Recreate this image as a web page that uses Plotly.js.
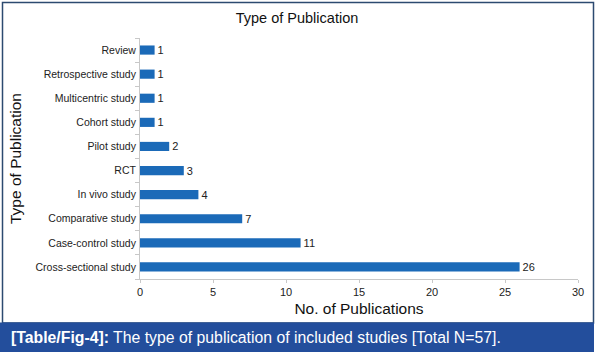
<!DOCTYPE html>
<html>
<head>
<meta charset="utf-8">
<script src="https://cdn.plot.ly/plotly-3.0.1.min.js"></script>
<style>
html,body{margin:0;padding:0;background:#fff;}
#chart{width:598px;height:356px;}
</style>
</head>
<body>
<div id="chart"></div>
<script>
// Data (bottom to top as drawn)
const categories = ["Cross-sectional study","Case-control study","Comparative study","In vivo study","RCT","Pilot study","Cohort study","Multicentric study","Retrospective study","Review"];
const counts = [26, 11, 7, 4, 3, 2, 1, 1, 1, 1];
const xTicks = [0, 5, 10, 15, 20, 25, 30];

const W = 598, H = 356;
const L = 140, R = 20, T = 38, B = 77;
const pw = W - L - R, ph = H - T - B;
const px = v => (v - L) / pw;          // pixel x -> paper x
const py = v => (H - B - v) / ph;       // pixel y -> paper y

const trace = {
  type: 'bar',
  orientation: 'h',
  y: categories,
  x: counts,
  marker: {color: '#1b6ab8'},
  text: counts.map(String),
  textposition: 'outside',
  constraintext: 'none',
  cliponaxis: false,
  textfont: {family: 'Liberation Sans, Arial, sans-serif', size: 11, color: '#222'},
  hoverinfo: 'none'
};

const layout = {
  width: W, height: H,
  margin: {l: L, r: R, t: T, b: B, pad: 0},
  paper_bgcolor: '#fff',
  plot_bgcolor: '#fff',
  showlegend: false,
  bargap: 0.62,
  font: {family: 'Liberation Sans, Arial, sans-serif', color: '#222'},
  title: {
    text: 'Type of Publication',
    font: {size: 14.5, color: '#111'},
    x: 297 / W, xanchor: 'center', xref: 'container',
    y: 1 - 18 / H, yanchor: 'middle', yref: 'container'
  },
  xaxis: {
    range: [0, 30],
    tickvals: xTicks,
    ticktext: xTicks.map(String),
    showgrid: false,
    zeroline: false,
    showline: true,
    linecolor: '#c8c8c8',
    linewidth: 1,
    ticks: 'outside',
    ticklen: 3,
    tickcolor: '#c8c8c8',
    tickfont: {size: 11, color: '#222'},
    title: {text: 'No. of Publications', font: {size: 15.5, color: '#111'}, standoff: 5},
    fixedrange: true
  },
  yaxis: {
    type: 'category',
    showgrid: false,
    zeroline: false,
    showline: true,
    linecolor: '#c8c8c8',
    linewidth: 1,
    ticks: 'outside',
    tickson: 'boundaries',
    ticklen: 4,
    tickcolor: '#c8c8c8',
    tickfont: {size: 10.5, color: '#222'},
    ticklabelstandoff: 1,
    title: {text: 'Type of Publication', font: {size: 15.5, color: '#111'}, standoff: 10},
    fixedrange: true
  },
  shapes: [
    {type: 'rect', xref: 'paper', yref: 'paper',
     x0: px(2.5), x1: px(593.5), y0: py(323), y1: py(2.5),
     line: {color: '#2c4a70', width: 1.5}, fillcolor: 'rgba(0,0,0,0)', layer: 'below'},
    {type: 'rect', xref: 'paper', yref: 'paper',
     x0: px(0), x1: px(594), y0: py(352), y1: py(322.5),
     line: {width: 0}, fillcolor: '#234e9c', layer: 'above'}
  ],
  annotations: [
    {xref: 'paper', yref: 'paper', x: px(9), y: py(337), xanchor: 'left', yanchor: 'middle',
     showarrow: false,
     text: '<b>[Table/Fig-4]:</b> The type of publication of included studies [Total N=57].',
     font: {size: 15.8, color: '#ffffff', family: 'Liberation Sans, Arial, sans-serif'}}
  ]
};

Plotly.newPlot('chart', [trace], layout, {displayModeBar: false, staticPlot: true});
</script>
</body>
</html>
